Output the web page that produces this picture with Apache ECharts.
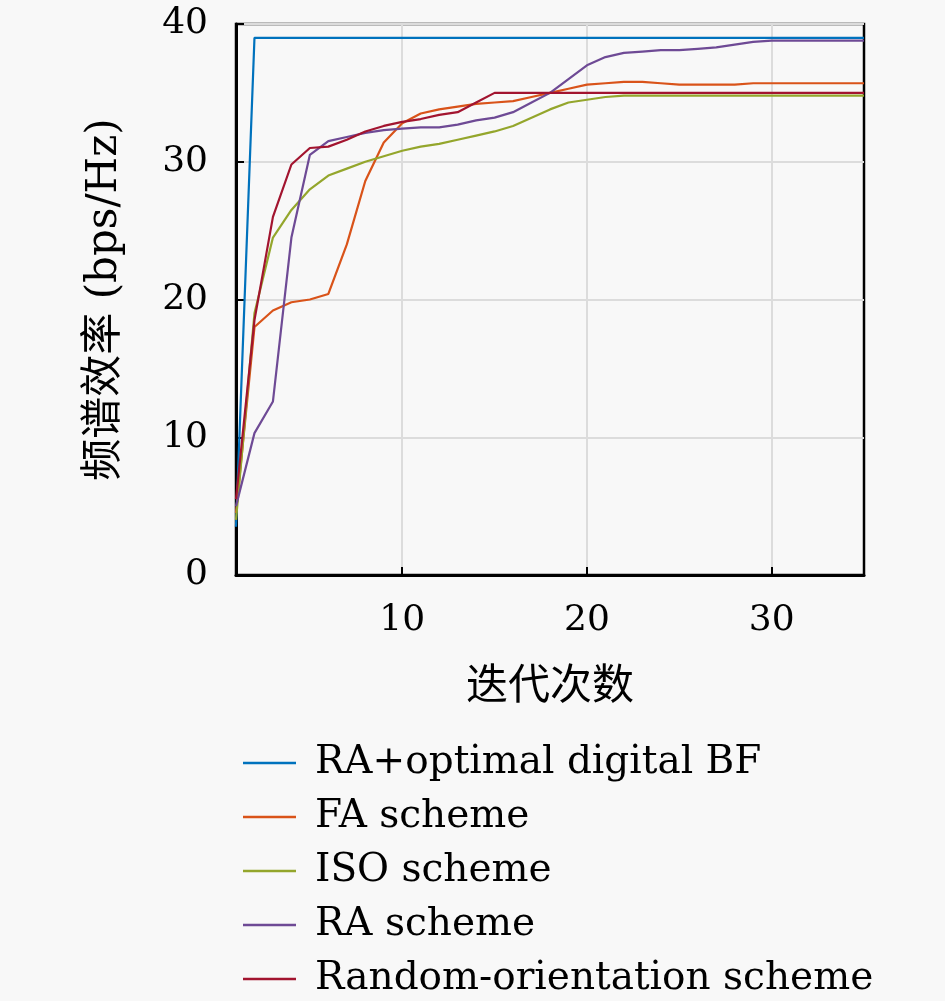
<!DOCTYPE html>
<html>
<head>
<meta charset="utf-8">
<script src="https://cdn.jsdelivr.net/npm/echarts@6.0.0/dist/echarts.min.js"></script>
<style>
  html, body { margin: 0; padding: 0; background: #f8f8f8; }
  #main { width: 945px; height: 1001px; }
</style>
</head>
<body>
<div id="main"></div>
<script>
// data
const iterations = [1, 2, 3, 4, 5, 6, 7, 8, 9, 10, 11, 12, 13, 14, 15, 16, 17, 18,
  19, 20, 21, 22, 23, 24, 25, 26, 27, 28, 29, 30, 31, 32, 33, 34, 35];
const xTicks = [10, 20, 30];

const seriesNames = ['RA+optimal digital BF', 'FA scheme', 'ISO scheme', 'RA scheme', 'Random-orientation scheme'];
const seriesColors = ['#0072bd', '#d95319', '#94a62c', '#6e4a95', '#a2142f'];

const optimalBF = [3.5, 39, 39, 39, 39, 39, 39, 39, 39, 39, 39, 39, 39, 39, 39, 39, 39, 39,
  39, 39, 39, 39, 39, 39, 39, 39, 39, 39, 39, 39, 39, 39, 39, 39, 39];
const faScheme = [4.5, 18, 19.2, 19.8, 20, 20.4, 24, 28.6, 31.4, 32.8, 33.5, 33.8, 34.0, 34.2,
  34.3, 34.4, 34.7, 35.0, 35.3, 35.6, 35.7, 35.8, 35.8, 35.7, 35.6, 35.6, 35.6, 35.6,
  35.7, 35.7, 35.7, 35.7, 35.7, 35.7, 35.7];
const isoScheme = [4, 19, 24.5, 26.5, 28, 29, 29.5, 30, 30.4, 30.8, 31.1, 31.3, 31.6, 31.9,
  32.2, 32.6, 33.2, 33.8, 34.3, 34.5, 34.7, 34.8, 34.8, 34.8, 34.8, 34.8, 34.8, 34.8,
  34.8, 34.8, 34.8, 34.8, 34.8, 34.8, 34.8];
const raScheme = [5, 10.3, 12.6, 24.5, 30.5, 31.5, 31.8, 32.1, 32.3, 32.4, 32.5, 32.5, 32.7,
  33.0, 33.2, 33.6, 34.3, 35.0, 36.0, 37.0, 37.6, 37.9, 38.0, 38.1, 38.1, 38.2, 38.3,
  38.5, 38.7, 38.8, 38.8, 38.8, 38.8, 38.8, 38.8];
const randomOrient = [5.5, 18.5, 26, 29.8, 31, 31.1, 31.6, 32.2, 32.6, 32.9, 33.1, 33.4, 33.6,
  34.3, 35.0, 35.0, 35.0, 35.0, 35.0, 35.0, 35.0, 35.0, 35.0, 35.0, 35.0, 35.0, 35.0,
  35.0, 35.0, 35.0, 35.0, 35.0, 35.0, 35.0, 35.0];

const allValues = [optimalBF, faScheme, isoScheme, raScheme, randomOrient];

const serif = '"DejaVu Serif", "Noto Sans CJK SC", serif';

const myChart = echarts.init(document.getElementById('main'));

const chartOpts = {
  backgroundColor: '#f8f8f8',
  animation: false,
  grid: {
    left: 236, right: 81, top: 24, bottom: 426,
    show: true,
    backgroundColor: '#f8f8f8',
    borderColor: '#000',
    borderWidth: 2.5
  },
  legend: {
    orient: 'vertical',
    left: 243,
    top: 743,
    height: 258,
    padding: 0,
    icon: 'rect',
    itemWidth: 53,
    itemHeight: 2.5,
    itemGap: 14,
    data: seriesNames,
    textStyle: {
      fontFamily: serif,
      fontSize: 39,
      lineHeight: 40,
      color: '#000',
      padding: [0, 0, 0, 14]
    }
  },
  xAxis: {
    type: 'value',
    min: 1,
    max: 35,
    name: '迭代次数',
    nameLocation: 'middle',
    nameGap: 92,
    nameTextStyle: { fontFamily: serif, fontSize: 42, color: '#000' },
    axisLine: { lineStyle: { color: '#000', width: 3 } },
    axisTick: { inside: true, length: 8, customValues: xTicks, lineStyle: { color: '#000', width: 2 } },
    axisLabel: { customValues: xTicks, margin: 28, fontFamily: serif, fontSize: 36, color: '#000' },
    splitLine: { show: true, lineStyle: { color: '#dcdcdc', width: 2 } }
  },
  yAxis: {
    type: 'value',
    min: 0,
    max: 40,
    interval: 10,
    name: '频谱效率 (bps/Hz)',
    nameLocation: 'middle',
    nameGap: 110,
    nameTextStyle: { fontFamily: serif, fontSize: 42, color: '#000' },
    axisLine: { show: true, lineStyle: { color: '#000', width: 3 } },
    axisTick: { show: true, inside: true, length: 8, lineStyle: { color: '#000', width: 2 } },
    axisLabel: { margin: 28, fontFamily: serif, fontSize: 36, color: '#000' },
    splitLine: { show: true, lineStyle: { color: '#dcdcdc', width: 2 } }
  },
  series: seriesNames.map((name, k) => ({
    name: name,
    type: 'line',
    symbol: 'none',
    data: iterations.map((x, i) => [x, allValues[k][i]]),
    itemStyle: { color: seriesColors[k] },
    lineStyle: { color: seriesColors[k], width: 2.2 }
  }))
};
myChart.setOption(chartOpts);
</script>
</body>
</html>
